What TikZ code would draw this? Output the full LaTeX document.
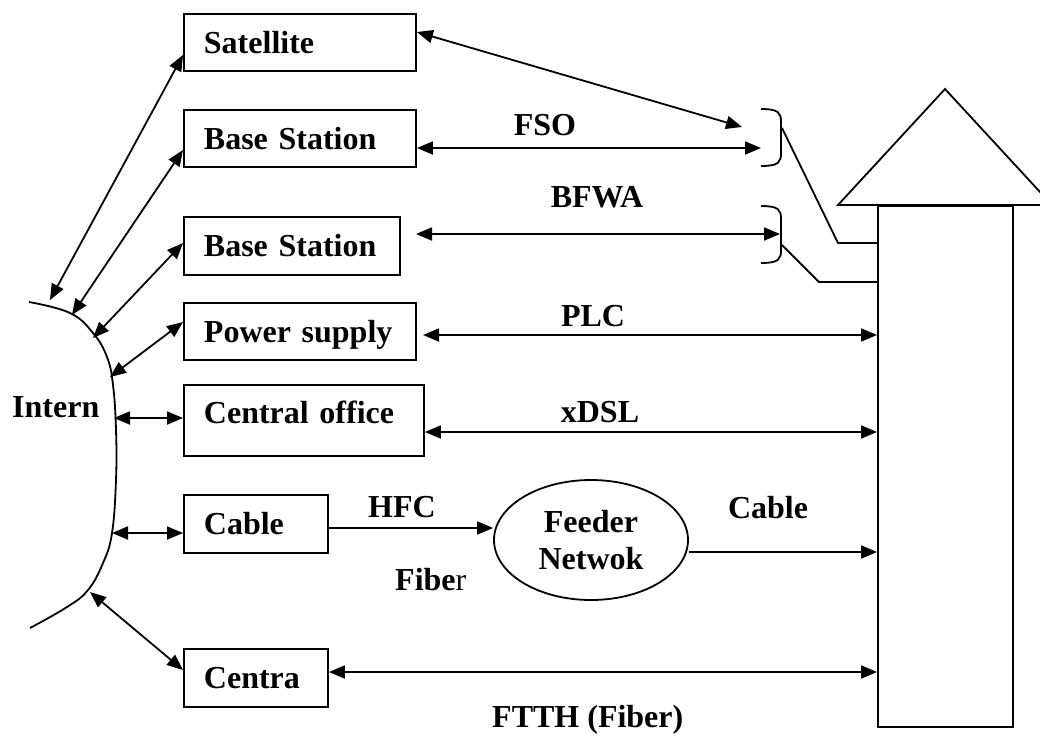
\documentclass[tikz,border=0pt]{standalone}
\usepackage{fontspec}
\setmainfont{Liberation Serif}
\usetikzlibrary{arrows.meta,shapes.geometric}
\begin{document}
\begin{tikzpicture}[x=1pt,y=-1pt,
  every node/.style={font=\fontsize{32pt}{37pt}\selectfont\bfseries},
  box/.style={draw, line width=1.9pt, anchor=north west, inner xsep=20pt, inner ysep=0pt,
    text height=22pt, text depth=0pt, align=left},
  lbl/.style={anchor=base, inner sep=0pt},
  plain/.style={line width=1.8pt},
  link/.style={plain, {Triangle[length=16pt,width=13pt]}-{Triangle[length=16pt,width=13pt]}},
  tolink/.style={plain, -{Triangle[length=16pt,width=13pt]}},
]
\useasboundingbox (0,0) rectangle (1040,736);
\clip (0,0) rectangle (1040,736);

% boxes
\node[box, text width=192pt, minimum height=57pt] (sat) at (183,13) {Satellite};
\node[box, text width=192pt, minimum height=57pt] (bs1) at (183,109) {Base Station};
\node[box, text width=176pt, minimum height=58pt] (bs2) at (183,216) {Base Station};
\node[box, text width=192pt, minimum height=57pt] (pow) at (183,302) {Power supply};
\node[box, text width=200pt, minimum height=71pt, text depth=15pt] (co) at (183,384) {Central office};
\node[box, text width=104pt, minimum height=58pt] (cab) at (183,494) {Cable};
\node[box, text width=104pt, minimum height=58pt] (cen) at (183,648) {Centra};

% feeder network
\node[ellipse, draw, line width=1.8pt, minimum width=194pt, minimum height=120pt,
  inner sep=0pt, align=center] (fn) at (591,540) {Feeder\\Netwok};

% house (arrow)
\node[draw, line width=1.9pt, anchor=north west, minimum width=135pt, minimum height=521pt,
  inner sep=0pt] (house) at (877,205) {};
\draw[plain] (838,205) -- (945,89) -- (1052,205) -- cycle;

% internet curve
\draw[plain] plot[smooth, tension=0.7] coordinates {(29,302) (70,313) (93,333) (107,357)
  (113,385) (116,430) (116,480) (112,533) (103,563) (88,590) (67,607) (30,628)};
\node[lbl, anchor=base west] (intern) at (12,417) {Intern};

\coordinate (iSat) at (50,300);
\coordinate (iB1) at (72,315);
\coordinate (iB2) at (93,338);
\coordinate (iPow) at (110,377);
\coordinate (iCo) at (114,418);
\coordinate (iCab) at (112,533);
\coordinate (iCen) at (90,592);

\draw[link] (iSat) -- (sat.west |- 0,55);
\draw[link] (iB1) -- (bs1.west |- 0,150);
\draw[link] (iB2) -- (bs2.west |- 0,243);
\draw[link] (iPow) -- (pow.west |- 0,322);
\draw[link] (iCo) -- (co.west |- 0,418);
\draw[link] (iCab) -- (cab.west |- 0,533);
\draw[link] (iCen) -- (cen.west |- 0,670);

% brackets
\coordinate (satEnd) at (742,127);
\coordinate (fsoEnd) at (761,148);
\coordinate (bfwaStart) at (416,234);
\coordinate (bfwaEnd) at (780,234);
\coordinate (plcStart) at (423,335);
\coordinate (br1) at (782,128);
\coordinate (br2) at (782,245);
\draw[plain] (761,109) .. controls (779,109) and (781,113) .. (781,122) -- (781,153)
  .. controls (781,162) and (779,166) .. (761,166);
\draw[plain] (761,206) .. controls (779,206) and (781,210) .. (781,219) -- (781,250)
  .. controls (781,259) and (779,263) .. (761,263);
\draw[plain] (br1) -- (838,243) -- (house.west |- 0,243);
\draw[plain] (br2) -- (819,282) -- (house.west |- 0,282);

% right-side links
\draw[link] (sat.east |- 0,32) -- (satEnd);
\draw[link] (bs1.east |- 0,148) -- (fsoEnd);
\draw[link] (bfwaStart) -- (bfwaEnd);
\draw[link] (plcStart) -- (house.west |- 0,335);
\draw[link] (co.east |- 0,432) -- (house.west |- 0,432);
\draw[tolink] (cab.east |- 0,528) -- (fn.west |- 0,528);
\draw[tolink] (fn.east |- 0,552) -- (house.west |- 0,552);
\draw[link] (cen.east |- 0,672) -- (house.west |- 0,672);

% labels
\node[lbl] (fso) at (545,135) {FSO};
\node[lbl] (bfwa) at (597,207) {BFWA};
\node[lbl] (plc) at (593,326) {PLC};
\node[lbl] (xdsl) at (600,422) {xDSL};
\node[lbl] (hfc) at (402,517) {HFC};
\node[lbl, anchor=base west] (fiber) at (395,590) {Fibe\mdseries r};
\node[lbl] (cablelbl) at (768,518) {Cable};
\node[lbl, anchor=base west] (ftth) at (492,727) {FTTH (Fiber)};
\end{tikzpicture}
\end{document}
